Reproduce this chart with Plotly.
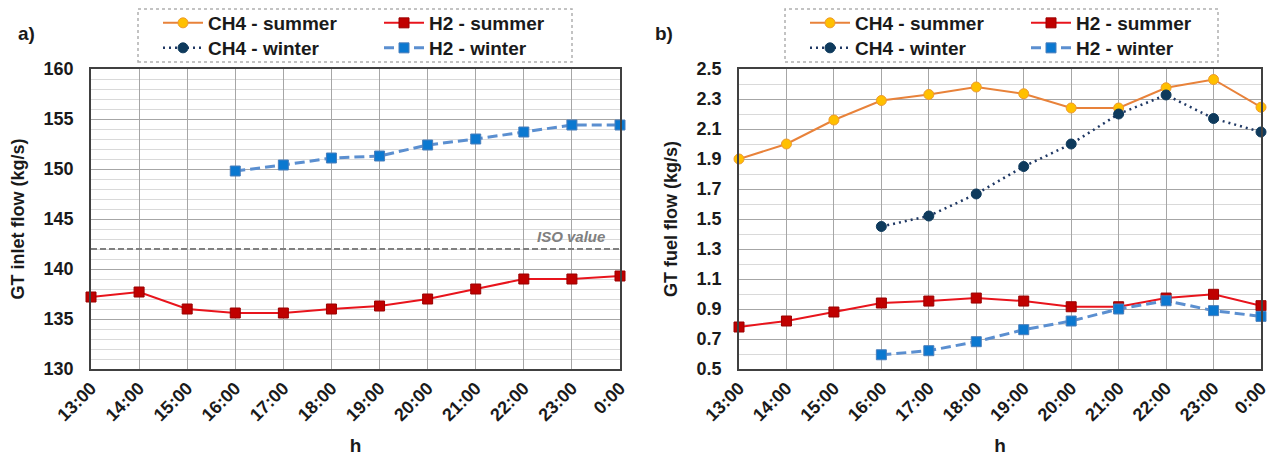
import plotly.graph_objects as go
from plotly.subplots import make_subplots

hours = ["13:00", "14:00", "15:00", "16:00", "17:00", "18:00",
         "19:00", "20:00", "21:00", "22:00", "23:00", "0:00"]
winter_hours = hours[3:]

# a) GT inlet flow (kg/s)
inlet_h2_summer = [137.2, 137.7, 136.0, 135.6, 135.6, 136.0, 136.3, 137.0, 138.0, 139.0, 139.0, 139.3]
inlet_h2_winter = [149.8, 150.4, 151.1, 151.3, 152.4, 153.0, 153.7, 154.4, 154.4]
iso_value = 142.0

# b) GT fuel flow (kg/s)
fuel_ch4_summer = [1.90, 2.00, 2.16, 2.29, 2.33, 2.38, 2.335, 2.24, 2.24, 2.375, 2.43, 2.245]
fuel_h2_summer = [0.78, 0.82, 0.88, 0.94, 0.953, 0.973, 0.953, 0.915, 0.915, 0.973, 0.998, 0.922]
fuel_ch4_winter = [1.45, 1.52, 1.667, 1.85, 2.00, 2.20, 2.327, 2.17, 2.08]
fuel_h2_winter = [0.595, 0.622, 0.682, 0.762, 0.82, 0.90, 0.955, 0.889, 0.851]

FONT = "Liberation Sans, Arial, sans-serif"

styles = {
    "CH4 - summer": dict(line=dict(color="#E8823A", width=2),
                         marker=dict(symbol="circle", size=10, color="#FFC000",
                                     line=dict(color="#EE9A30", width=1))),
    "CH4 - winter": dict(line=dict(color="#1F3864", width=2.5, dash="2px,4px"),
                         marker=dict(symbol="circle", size=10, color="#0E3A5C",
                                     line=dict(color="#0E3A5C", width=1))),
    "H2 - summer": dict(line=dict(color="#E8141C", width=2),
                        marker=dict(symbol="square", size=10, color="#C00000",
                                    line=dict(color="#9A0000", width=1))),
    "H2 - winter": dict(line=dict(color="#5B8FD0", width=3, dash="10px,5px"),
                        marker=dict(symbol="square", size=10, color="#0B78D0",
                                    line=dict(color="#4A7EBB", width=1))),
}

fig = make_subplots(rows=1, cols=2, horizontal_spacing=0.1)

def add(name, x, y, col, legend):
    fig.add_trace(go.Scatter(x=x, y=y, name=name, mode="lines+markers",
                             cliponaxis=False, legend=legend,
                             **styles[name]), row=1, col=col)

# left panel: CH4 not plotted (legend entries only)
add("CH4 - summer", [None], [None], 1, "legend")
add("H2 - summer", hours, inlet_h2_summer, 1, "legend")
add("CH4 - winter", [None], [None], 1, "legend2")
add("H2 - winter", winter_hours, inlet_h2_winter, 1, "legend2")
# right panel
add("CH4 - summer", hours, fuel_ch4_summer, 2, "legend3")
add("H2 - summer", hours, fuel_h2_summer, 2, "legend3")
add("CH4 - winter", winter_hours, fuel_ch4_winter, 2, "legend4")
add("H2 - winter", winter_hours, fuel_h2_winter, 2, "legend4")

W, H = 1270, 458
L, R, T, B = 91, 9, 69, 89
pw, ph = W - L - R, H - T - B

def px(x):
    return (x - L) / pw

def py(y):
    return (H - B - y) / ph

fig.update_xaxes(domain=[0, px(620)], row=1, col=1)
fig.update_xaxes(domain=[px(739), 1], row=1, col=2)

axis_common = dict(showline=True, linecolor="#404040", linewidth=1.5, mirror=True,
                   gridcolor="#A6A6A6", gridwidth=1, zeroline=False,
                   tickfont=dict(family=FONT, size=18, color="#1a1a1a", weight="bold"))

for c in (1, 2):
    fig.update_xaxes(type="category", categoryorder="array", categoryarray=hours,
                     range=[0, len(hours) - 1], tickangle=-45,
                     title=dict(text="h", font=dict(family=FONT, size=19, color="#1a1a1a", weight="bold"),
                                standoff=15),
                     row=1, col=c, **axis_common)

fig.update_yaxes(range=[130, 160], tick0=130, dtick=5,
                 minor=dict(dtick=1, showgrid=True, gridcolor="#D9D9D9", gridwidth=1),
                 title=dict(text="GT inlet flow (kg/s)", font=dict(family=FONT, size=18, color="#1a1a1a", weight="bold"),
                            standoff=14),
                 ticklabelstandoff=12,
                 row=1, col=1, **axis_common)
fig.update_yaxes(range=[0.5, 2.5], tick0=0.5, dtick=0.2, tickformat=".1f",
                 minor=dict(tick0=0.5, dtick=0.1, showgrid=True, gridcolor="#D9D9D9", gridwidth=1),
                 title=dict(text="GT fuel flow (kg/s)", font=dict(family=FONT, size=18, color="#1a1a1a", weight="bold"),
                            standoff=14),
                 ticklabelstandoff=12,
                 row=1, col=2, **axis_common)

# ISO reference line
fig.add_shape(type="line", xref="x domain", yref="y", x0=0, x1=1, y0=iso_value, y1=iso_value,
              line=dict(color="#808080", width=2, dash="6px,3px"))
fig.add_annotation(xref="x domain", yref="y", x=0.907, y=iso_value, xanchor="center",
                   yanchor="bottom", yshift=2,
                   text="<i>ISO value</i>", showarrow=False,
                   font=dict(family=FONT, size=15, color="#808080", weight="bold"))

# legend frames
for x0, x1 in ((138, 572), (785, 1218)):
    fig.add_shape(type="rect", xref="paper", yref="paper",
                  x0=px(x0), x1=px(x1), y0=py(62), y1=py(9),
                  line=dict(color="#B0B0B0", width=1.5, dash="dot"), fillcolor="rgba(0,0,0,0)")

leg_font = dict(family=FONT, size=19, color="#1a1a1a", weight="bold")
legend_common = dict(orientation="h", xanchor="left", yanchor="top",
                     bgcolor="rgba(0,0,0,0)", borderwidth=0, font=leg_font,
                     itemwidth=40, entrywidth=166, entrywidthmode="pixels",
                     traceorder="normal")

# panel labels
for txt, x in (("a)", 16), ("b)", 664)):
    fig.add_annotation(xref="paper", yref="paper", x=px(x), y=py(21), text=txt,
                       showarrow=False, font=dict(family=FONT, size=19, color="#1a1a1a", weight="bold"))

fig.update_layout(
    width=W, height=H,
    margin=dict(l=L, r=R, t=T, b=B, autoexpand=False),
    paper_bgcolor="white", plot_bgcolor="white",
    legend=dict(x=px(158), y=py(4), **legend_common),
    legend2=dict(x=px(158), y=py(29), **legend_common),
    legend3=dict(x=px(805), y=py(4), **legend_common),
    legend4=dict(x=px(805), y=py(29), **legend_common),
)

fig.write_html("out.html", config={"displayModeBar": False},
               post_script="document.body.style.margin='0';document.body.style.overflow='hidden';")
